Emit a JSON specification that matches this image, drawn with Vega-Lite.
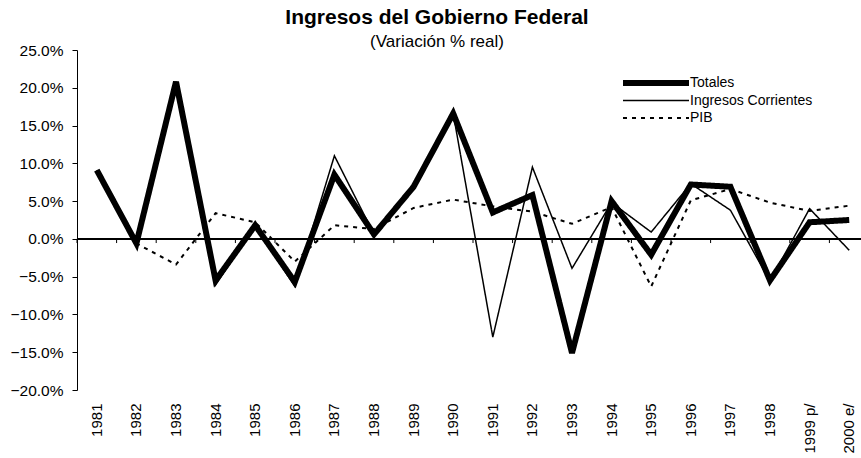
{
  "$schema": "https://vega.github.io/schema/vega-lite/v6.json",
  "width": 792,
  "height": 340,
  "autosize": {"type": "none"},
  "padding": {"left": 77, "top": 50, "right": -8, "bottom": 68},
  "background": "white",
  "config": {
    "font": "Liberation Sans",
    "view": {"stroke": null},
    "legend": {"padding": 0}
  },
  "title": {
    "text": "Ingresos del Gobierno Federal",
    "subtitle": "(Variación % real)",
    "fontSize": 21,
    "fontWeight": "bold",
    "color": "black",
    "subtitleFontSize": 17,
    "subtitleColor": "black",
    "subtitlePadding": 6,
    "anchor": "middle",
    "dx": -36,
    "offset": -7
  },
  "data": {
    "values": [
      {"year": "1981", "serie": "Totales", "value": 9.1},
      {"year": "1982", "serie": "Totales", "value": -0.6},
      {"year": "1983", "serie": "Totales", "value": 20.8},
      {"year": "1984", "serie": "Totales", "value": -5.5},
      {"year": "1985", "serie": "Totales", "value": 1.8},
      {"year": "1986", "serie": "Totales", "value": -5.7},
      {"year": "1987", "serie": "Totales", "value": 8.5},
      {"year": "1988", "serie": "Totales", "value": 0.6},
      {"year": "1989", "serie": "Totales", "value": 6.9},
      {"year": "1990", "serie": "Totales", "value": 16.6},
      {"year": "1991", "serie": "Totales", "value": 3.5},
      {"year": "1992", "serie": "Totales", "value": 5.8},
      {"year": "1993", "serie": "Totales", "value": -15.1},
      {"year": "1994", "serie": "Totales", "value": 5.0},
      {"year": "1995", "serie": "Totales", "value": -2.1},
      {"year": "1996", "serie": "Totales", "value": 7.2},
      {"year": "1997", "serie": "Totales", "value": 6.9},
      {"year": "1998", "serie": "Totales", "value": -5.5},
      {"year": "1999 p/", "serie": "Totales", "value": 2.2},
      {"year": "2000 e/", "serie": "Totales", "value": 2.5},
      {"year": "1981", "serie": "Ingresos Corrientes", "value": 9.1},
      {"year": "1982", "serie": "Ingresos Corrientes", "value": -0.6},
      {"year": "1983", "serie": "Ingresos Corrientes", "value": 20.8},
      {"year": "1984", "serie": "Ingresos Corrientes", "value": -6.1},
      {"year": "1985", "serie": "Ingresos Corrientes", "value": 1.8},
      {"year": "1986", "serie": "Ingresos Corrientes", "value": -6.3},
      {"year": "1987", "serie": "Ingresos Corrientes", "value": 11.0},
      {"year": "1988", "serie": "Ingresos Corrientes", "value": 0.6},
      {"year": "1989", "serie": "Ingresos Corrientes", "value": 6.9},
      {"year": "1990", "serie": "Ingresos Corrientes", "value": 16.6},
      {"year": "1991", "serie": "Ingresos Corrientes", "value": -13.0},
      {"year": "1992", "serie": "Ingresos Corrientes", "value": 9.5},
      {"year": "1993", "serie": "Ingresos Corrientes", "value": -3.9},
      {"year": "1994", "serie": "Ingresos Corrientes", "value": 4.8},
      {"year": "1995", "serie": "Ingresos Corrientes", "value": 0.9},
      {"year": "1996", "serie": "Ingresos Corrientes", "value": 7.3},
      {"year": "1997", "serie": "Ingresos Corrientes", "value": 3.8},
      {"year": "1998", "serie": "Ingresos Corrientes", "value": -5.6},
      {"year": "1999 p/", "serie": "Ingresos Corrientes", "value": 4.0},
      {"year": "2000 e/", "serie": "Ingresos Corrientes", "value": -1.5},
      {"year": "1981", "serie": "PIB", "value": 8.8},
      {"year": "1982", "serie": "PIB", "value": -0.6},
      {"year": "1983", "serie": "PIB", "value": -3.4},
      {"year": "1984", "serie": "PIB", "value": 3.4},
      {"year": "1985", "serie": "PIB", "value": 2.2},
      {"year": "1986", "serie": "PIB", "value": -3.0},
      {"year": "1987", "serie": "PIB", "value": 1.8},
      {"year": "1988", "serie": "PIB", "value": 1.3},
      {"year": "1989", "serie": "PIB", "value": 4.1},
      {"year": "1990", "serie": "PIB", "value": 5.2},
      {"year": "1991", "serie": "PIB", "value": 4.3},
      {"year": "1992", "serie": "PIB", "value": 3.6},
      {"year": "1993", "serie": "PIB", "value": 2.0},
      {"year": "1994", "serie": "PIB", "value": 4.2},
      {"year": "1995", "serie": "PIB", "value": -6.3},
      {"year": "1996", "serie": "PIB", "value": 5.1},
      {"year": "1997", "serie": "PIB", "value": 6.6},
      {"year": "1998", "serie": "PIB", "value": 4.8},
      {"year": "1999 p/", "serie": "PIB", "value": 3.7},
      {"year": "2000 e/", "serie": "PIB", "value": 4.4}
    ]
  },
  "layer": [
    {
      "mark": {"type": "rule", "color": "black", "strokeWidth": 1},
      "encoding": {
        "y": {
          "datum": 0, "type": "quantitative",
          "scale": {"domain": [-20, 25], "nice": false, "zero": false},
          "axis": {"title": null, "values": [-20, -15, -10, -5, 0, 5, 10, 15, 20, 25], "labelOverlap": false, "labelExpr": "format(datum.value, '.1f') + '%'", "grid": false, "domainColor": "black", "tickColor": "black", "tickSize": 5, "labelPadding": 9, "labelFontSize": 15.5, "labelColor": "black"}
        }
      }
    },
    {
      "transform": [{"filter": "datum.serie === 'Totales'"}],
      "mark": {"type": "rule", "color": "black", "strokeWidth": 1},
      "encoding": {
        "x": {
          "field": "year", "type": "ordinal", "bandPosition": 0,
          "scale": {"type": "band", "paddingInner": 0, "paddingOuter": 0, "domain": ["1981", "1982", "1983", "1984", "1985", "1986", "1987", "1988", "1989", "1990", "1991", "1992", "1993", "1994", "1995", "1996", "1997", "1998", "1999 p/", "2000 e/"]},
          "axis": {"title": null, "labelAngle": -90, "labelFontSize": 15, "labelColor": "black", "domain": false, "ticks": false, "labelPadding": 13, "labelBaseline": "middle", "labelAlign": "right"}
        },
        "y": {
          "datum": 0, "type": "quantitative",
          "scale": {"domain": [-20, 25], "nice": false, "zero": false},
          "axis": {"title": null, "values": [-20, -15, -10, -5, 0, 5, 10, 15, 20, 25], "labelOverlap": false, "labelExpr": "format(datum.value, '.1f') + '%'", "grid": false, "domainColor": "black", "tickColor": "black", "tickSize": 5, "labelPadding": 9, "labelFontSize": 15.5, "labelColor": "black"}
        },
        "y2": {"datum": -0.55}
      }
    },
    {
      "mark": {"type": "line", "color": "black", "strokeJoin": "miter"},
      "encoding": {
        "x": {
          "field": "year", "type": "ordinal", "bandPosition": 0.5,
          "scale": {"type": "band", "paddingInner": 0, "paddingOuter": 0, "domain": ["1981", "1982", "1983", "1984", "1985", "1986", "1987", "1988", "1989", "1990", "1991", "1992", "1993", "1994", "1995", "1996", "1997", "1998", "1999 p/", "2000 e/"]},
          "axis": {"title": null, "labelAngle": -90, "labelFontSize": 15, "labelColor": "black", "domain": false, "ticks": false, "labelPadding": 13, "labelBaseline": "middle", "labelAlign": "right"}
        },
        "y": {
          "field": "value", "type": "quantitative",
          "scale": {"domain": [-20, 25], "nice": false, "zero": false},
          "axis": {"title": null, "values": [-20, -15, -10, -5, 0, 5, 10, 15, 20, 25], "labelOverlap": false, "labelExpr": "format(datum.value, '.1f') + '%'", "grid": false, "domainColor": "black", "tickColor": "black", "tickSize": 5, "labelPadding": 9, "labelFontSize": 15.5, "labelColor": "black"}
        },
        "detail": {"field": "serie"},
        "strokeWidth": {
          "field": "serie", "type": "nominal",
          "scale": {"type": "ordinal", "domain": ["Totales", "Ingresos Corrientes", "PIB"], "range": [6, 1.5, 2]},
          "legend": {"title": null, "orient": "none", "legendX": 543, "legendY": 25.5, "symbolType": "stroke", "symbolSize": 4356, "clipHeight": 15, "symbolStrokeColor": "black", "labelFontSize": 14, "labelColor": "black", "labelOffset": -2, "rowPadding": 2.5}
        },
        "strokeDash": {
          "field": "serie", "type": "nominal",
          "scale": {"domain": ["Totales", "Ingresos Corrientes", "PIB"], "range": [[1, 0], [1, 0], [4, 5]]},
          "legend": {"title": null, "orient": "none", "legendX": 543, "legendY": 25.5, "symbolType": "stroke", "symbolSize": 4356, "clipHeight": 15, "symbolStrokeColor": "black", "labelFontSize": 14, "labelColor": "black", "labelOffset": -2, "rowPadding": 2.5}
        }
      }
    }
  ]
}
